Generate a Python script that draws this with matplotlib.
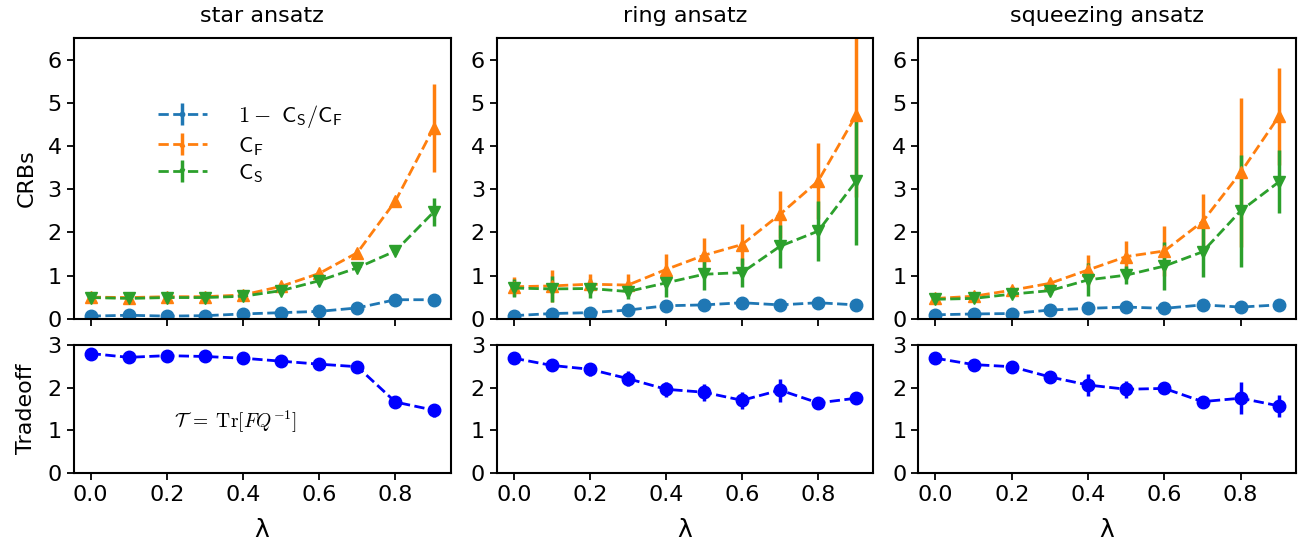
import numpy as np
import matplotlib
matplotlib.use("Agg")
import matplotlib.pyplot as plt

plt.rcParams['mathtext.fontset'] = 'cm'
plt.rcParams['axes.linewidth'] = 1.5

lam = [0.0, 0.1, 0.2, 0.3, 0.4, 0.5, 0.6, 0.7, 0.8, 0.9]
titles = ["star ansatz", "ring ansatz", "squeezing ansatz"]

# star ansatz
star_ratio = [0.06, 0.08, 0.06, 0.07, 0.11, 0.14, 0.17, 0.25, 0.44, 0.44]
star_ratio_err = [0.02, 0.02, 0.02, 0.02, 0.02, 0.02, 0.02, 0.02, 0.02, 0.03]
star_cf = [0.50, 0.49, 0.51, 0.51, 0.55, 0.75, 1.05, 1.53, 2.73, 4.42]
star_cf_err = [0.04, 0.04, 0.04, 0.04, 0.04, 0.05, 0.06, 0.08, 0.08, 1.03]
star_cs = [0.49, 0.47, 0.49, 0.49, 0.52, 0.65, 0.88, 1.18, 1.57, 2.47]
star_cs_err = [0.04, 0.04, 0.04, 0.04, 0.04, 0.05, 0.05, 0.06, 0.06, 0.33]
star_trade = [2.80, 2.71, 2.75, 2.73, 2.69, 2.62, 2.55, 2.49, 1.66, 1.47]
star_trade_err = [0.04, 0.04, 0.04, 0.04, 0.04, 0.04, 0.04, 0.04, 0.05, 0.15]

# ring ansatz
ring_ratio = [0.07, 0.12, 0.14, 0.20, 0.30, 0.32, 0.37, 0.32, 0.37, 0.32]
ring_ratio_err = [0.02, 0.02, 0.02, 0.02, 0.02, 0.02, 0.02, 0.02, 0.02, 0.02]
ring_cf = [0.74, 0.76, 0.80, 0.78, 1.14, 1.47, 1.72, 2.42, 3.19, 4.72]
ring_cf_err = [0.22, 0.37, 0.23, 0.25, 0.36, 0.41, 0.48, 0.54, 0.89, 1.90]
ring_cs = [0.71, 0.69, 0.70, 0.63, 0.83, 1.03, 1.07, 1.68, 2.03, 3.19]
ring_cs_err = [0.20, 0.30, 0.22, 0.18, 0.32, 0.36, 0.33, 0.50, 0.70, 1.48]
ring_trade = [2.69, 2.52, 2.43, 2.21, 1.96, 1.89, 1.70, 1.94, 1.64, 1.75]
ring_trade_err = [0.10, 0.10, 0.15, 0.17, 0.17, 0.20, 0.20, 0.27, 0.07, 0.13]

# squeezing ansatz
sq_ratio = [0.09, 0.11, 0.12, 0.20, 0.24, 0.27, 0.24, 0.32, 0.27, 0.32]
sq_ratio_err = [0.02, 0.02, 0.02, 0.02, 0.02, 0.02, 0.02, 0.02, 0.02, 0.02]
sq_cf = [0.47, 0.52, 0.66, 0.82, 1.13, 1.44, 1.57, 2.25, 3.39, 4.69]
sq_cf_err = [0.05, 0.06, 0.08, 0.10, 0.34, 0.36, 0.58, 0.65, 1.73, 1.13]
sq_cs = [0.45, 0.47, 0.57, 0.65, 0.90, 1.01, 1.22, 1.55, 2.50, 3.17]
sq_cs_err = [0.05, 0.06, 0.08, 0.10, 0.38, 0.21, 0.56, 0.58, 1.30, 0.73]
sq_trade = [2.69, 2.54, 2.49, 2.25, 2.06, 1.96, 1.98, 1.67, 1.75, 1.57]
sq_trade_err = [0.04, 0.04, 0.04, 0.08, 0.25, 0.20, 0.10, 0.08, 0.38, 0.25]

panels = [
    (star_ratio, star_ratio_err, star_cf, star_cf_err, star_cs, star_cs_err, star_trade, star_trade_err),
    (ring_ratio, ring_ratio_err, ring_cf, ring_cf_err, ring_cs, ring_cs_err, ring_trade, ring_trade_err),
    (sq_ratio, sq_ratio_err, sq_cf, sq_cf_err, sq_cs, sq_cs_err, sq_trade, sq_trade_err),
]

W, H = 1306, 547
fig = plt.figure(figsize=(W / 100, H / 100), dpi=100)

xl = [(73.5, 450.7), (496.7, 873.3), (918.3, 1296.0)]
top_y = (38.3, 318.7)
bot_y = (345.0, 472.7)

def rect(x, y):
    return [x[0] / W, 1 - y[1] / H, (x[1] - x[0]) / W, (y[1] - y[0]) / H]

ekw = dict(linestyle='--', linewidth=2, elinewidth=2.5, capsize=0, markersize=9)
fs = 16

for i, (xr, data) in enumerate(zip(xl, panels)):
    r, re, cf, cfe, cs, cse, tr, tre = data
    axt = fig.add_axes(rect(xr, top_y))
    axb = fig.add_axes(rect(xr, bot_y), sharex=axt)

    h1 = axt.errorbar(lam, r, yerr=re, fmt='o', color='#1f77b4', **ekw)
    h2 = axt.errorbar(lam, cf, yerr=cfe, fmt='^', color='#ff7f0e', **ekw)
    h3 = axt.errorbar(lam, cs, yerr=cse, fmt='v', color='#2ca02c', **ekw)
    axt.set_ylim(0, 6.5)
    axt.set_yticks([0, 1, 2, 3, 4, 5, 6])
    axt.set_title(titles[i], fontsize=fs, pad=12)
    axt.tick_params(labelbottom=False)

    axb.errorbar(lam, tr, yerr=tre, fmt='o', color='blue', **ekw)
    axb.set_ylim(0, 3)
    axb.set_yticks([0, 1, 2, 3])
    axb.set_xticks([0.0, 0.2, 0.4, 0.6, 0.8])
    axb.set_xlabel('λ', fontsize=18, labelpad=10)

    for ax in (axt, axb):
        ax.tick_params(labelsize=fs, width=1.3, length=5)

    if i == 0:
        axt.set_ylabel('CRBs', fontsize=fs, labelpad=8)
        axb.set_ylabel('Tradeoff', fontsize=fs, labelpad=8)
        axt.legend([h1, h2, h3],
                   [r'$1-$ $\mathsf{C_S/C_F}$', r'$\mathsf{C_F}$', r'$\mathsf{C_S}$'],
                   loc='upper left', bbox_to_anchor=(0.17, 0.84), frameon=False,
                   fontsize=16, handlelength=2.2, labelspacing=0.2, markerscale=0.35,
                   handletextpad=1.4)
        axb.text(0.38, 1.2, r'$\mathcal{T}\;=\;\mathrm{Tr}[FQ^{-1}]$', ha='center', va='center',
                 fontsize=14)

fig.savefig('out.png', dpi=100)
